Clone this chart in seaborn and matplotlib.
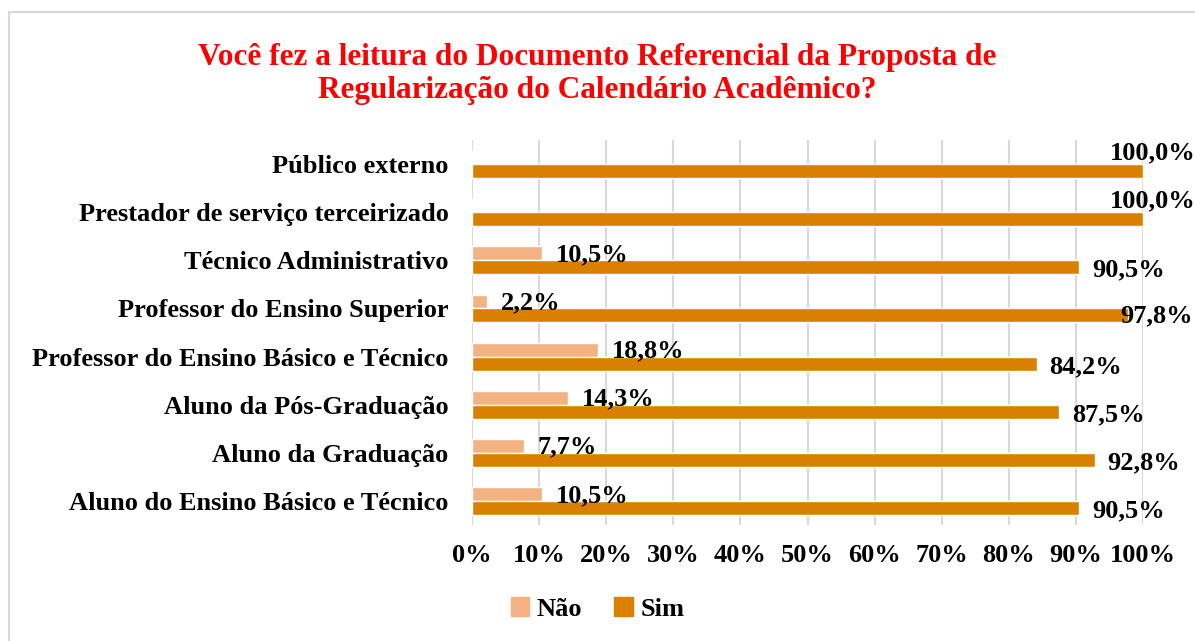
import pandas as pd
import numpy as np
import matplotlib.pyplot as plt
from matplotlib.patches import Rectangle, Patch
import seaborn as sns

###########################################################################################
# Data
###########################################################################################

categorias = ['Público externo', 'Prestador de serviço terceirizado', 'Técnico Administrativo',
              'Professor do Ensino Superior', 'Professor do Ensino Básico e Técnico',
              'Aluno da Pós-Graduação', 'Aluno da Graduação', 'Aluno do Ensino Básico e Técnico']
nao = [0.0, 0.0, 10.5, 2.2, 18.8, 14.3, 7.7, 10.5]
sim = [100.0, 100.0, 90.5, 97.8, 84.2, 87.5, 92.8, 90.5]
respostas = ['Não', 'Sim']
ticks = [0, 10, 20, 30, 40, 50, 60, 70, 80, 90, 100]

titulo = ('Você fez a leitura do Documento Referencial da Proposta de\n'
          'Regularização do Calendário Acadêmico?')

###########################################################################################
# Plot
###########################################################################################

sns.set_style('white')
plt.rcParams['font.family'] = ['Liberation Serif', 'DejaVu Serif']
plt.rcParams['font.weight'] = 'bold'
plt.rcParams['text.color'] = 'black'
plt.rcParams['xtick.color'] = 'black'
plt.rcParams['ytick.color'] = 'black'

cores = {'Não': '#F4B183', 'Sim': '#D98000'}

df = pd.DataFrame({
    'categoria': categorias * 2,
    'resposta': ['Não'] * len(categorias) + ['Sim'] * len(categorias),
    'valor': nao + sim,
})

fig = plt.figure(figsize=(11.95, 6.41), dpi=100)
ax = fig.add_axes([0.395, 0.181, 0.5615, 0.6005])

sns.barplot(data=df, y='categoria', x='valor', hue='resposta', hue_order=respostas,
            order=categorias, palette=cores, orient='h', width=0.58, gap=0,
            saturation=1, ax=ax, legend=False, errorbar=None)

ax.set_xlim(0, 100)
ax.set_ylim(len(categorias) - 0.5, -0.5)
ax.set_xticks(ticks)
ax.set_xticklabels([f'{t}%' for t in ticks], fontsize=19, fontweight='bold')
ax.set_yticks(range(len(categorias)))
ax.set_yticklabels(categorias, fontsize=19, fontweight='bold')
ax.tick_params(axis='x', length=0, pad=14)
ax.tick_params(axis='y', length=0, pad=17)
ax.set_xlabel('')
ax.set_ylabel('')
ax.grid(axis='x', color='#D9D9D9', lw=1.5)
ax.set_axisbelow(True)
for s in ax.spines.values():
    s.set_visible(False)

# data labels
bw = 0.58 / 2
for i, (vn, vs) in enumerate(zip(nao, sim)):
    if vn > 0:
        ax.annotate(f'{vn:.1f}%'.replace('.', ','), (vn, i - bw / 2), xytext=(10, -1),
                    textcoords='offset points', va='center', ha='left',
                    fontsize=19, fontweight='bold')
    lab = f'{vs:.1f}%'.replace('.', ',')
    if vs >= 99.9:
        ax.annotate(lab, (101.5, i + bw / 2), xytext=(0, 13), textcoords='offset points',
                    va='center', ha='center', fontsize=19, fontweight='bold',
                    annotation_clip=False)
    elif vs > 95:
        ax.annotate(lab, (107.5, i + bw / 2), va='center', ha='right', fontsize=19,
                    fontweight='bold', annotation_clip=False)
    else:
        ax.annotate(lab, (vs, i + bw / 2), xytext=(9, -2), textcoords='offset points',
                    va='center', ha='left', fontsize=19, fontweight='bold')

fig.text(0.5, 0.885, titulo, color='#FF0000', fontsize=22.5, fontweight='bold',
         ha='center', va='center', linespacing=1.2)

handles = [Patch(color=cores[r], label=r) for r in respostas]
fig.legend(handles=handles, loc='center', bbox_to_anchor=(0.5, 0.05), ncol=2,
           frameon=False, fontsize=19, handlelength=0.7, handleheight=0.7,
           handletextpad=0.3, columnspacing=1.2)

# chart frame
fig.patches.append(Rectangle((0.0075, -0.1), 1.2, 1.081, transform=fig.transFigure,
                             fill=False, edgecolor='#D9D9D9', lw=1.5))

plt.savefig('out.png', dpi=100)
plt.close('all')
